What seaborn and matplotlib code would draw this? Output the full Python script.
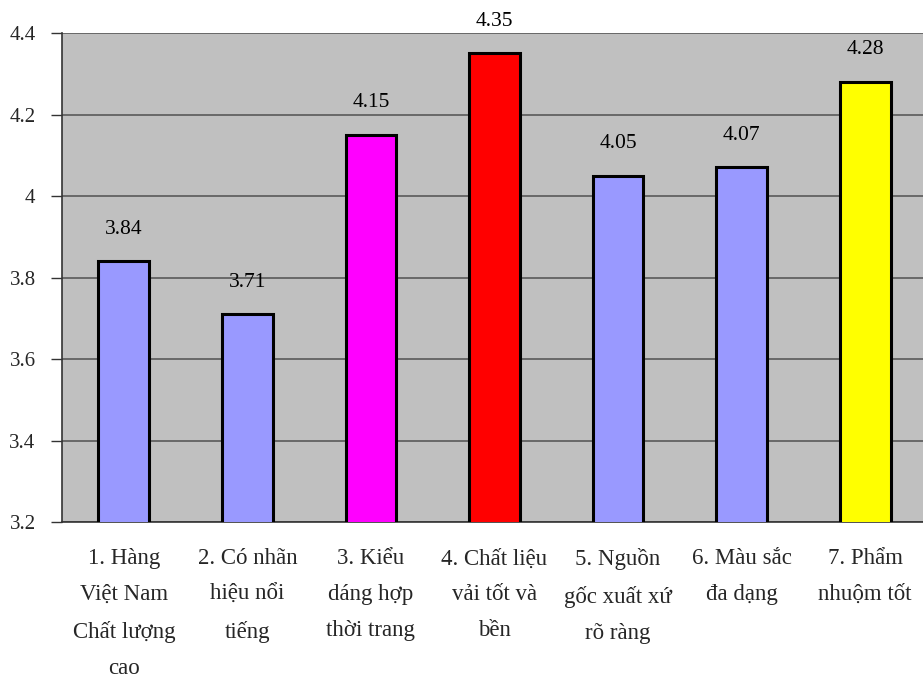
import matplotlib
matplotlib.use("Agg")
import matplotlib.pyplot as plt
import seaborn as sns
import pandas as pd

categories = [
    "1. Hàng\nViệt Nam\nChất lượng\ncao",
    "2. Có nhãn\nhiệu nổi\ntiếng",
    "3. Kiểu\ndáng hợp\nthời trang",
    "4. Chất liệu\nvải tốt và\nbền",
    "5. Nguồn\ngốc xuất xứ\nrõ ràng",
    "6. Màu sắc\nđa dạng",
    "7. Phẩm\nnhuộm tốt",
]
scores = [3.84, 3.71, 4.15, 4.35, 4.05, 4.07, 4.28]
bar_colors = ["#9999FF", "#9999FF", "#FF00FF", "#FF0000", "#9999FF", "#9999FF", "#FFFF00"]
y_ticks = [3.2, 3.4, 3.6, 3.8, 4.0, 4.2, 4.4]
y_tick_labels = ["3.2", "3.4", "3.6", "3.8", "4", "4.2", "4.4"]

sns.set_theme(style="white")
plt.rcParams["font.family"] = ["Liberation Serif", "DejaVu Serif"]

df = pd.DataFrame({"cat": categories, "score": scores})

W, H = 923, 682
fig = plt.figure(figsize=(W / 100, H / 100), dpi=100)
left, right, top, bottom = 62, 927, 33, 522
ax = fig.add_axes([left / W, 1 - bottom / H, (right - left) / W, (bottom - top) / H])
ax.set_facecolor("#C0C0C0")

sns.barplot(data=df, x="cat", y="score", hue="cat", palette=bar_colors,
            saturation=1, legend=False, width=0.41, edgecolor="black",
            linewidth=2.2, ax=ax, zorder=3)

ax.set_ylim(3.2, 4.4)
ax.set_xlim(-0.5, len(categories) - 0.5)
ax.set_yticks(y_ticks)
ax.set_yticklabels(y_tick_labels, fontsize=15)
ax.yaxis.grid(True, color="#505050", linewidth=1.1, zorder=1)
ax.set_axisbelow(True)

# category labels at bar centres, tick marks at category boundaries
ax.set_xticks(range(len(categories)))
ax.set_xticklabels(categories, fontsize=16.5, linespacing=1.93, va="top")
ax.tick_params(axis="x", length=0, pad=19)
ax.set_xticks([i - 0.5 for i in range(len(categories) + 1)], minor=True)
ax.tick_params(axis="x", which="minor", length=8, width=1, color="#333333", direction="out")
ax.tick_params(axis="y", length=8, width=1, color="#333333", direction="out", left=True, pad=11)

ax.set_xlabel("")
ax.set_ylabel("")
for s in ["top", "right"]:
    ax.spines[s].set_visible(False)
ax.spines["left"].set_color("#333333")
ax.spines["left"].set_linewidth(1.2)
ax.spines["bottom"].set_color("#333333")
ax.spines["bottom"].set_linewidth(1.2)

for i, v in enumerate(scores):
    ax.annotate(f"{v:.2f}", (i, v), xytext=(0, 23), textcoords="offset points",
                ha="center", va="center", fontsize=15.5, color="black")

fig.savefig("out.png", dpi=100, facecolor="white")
